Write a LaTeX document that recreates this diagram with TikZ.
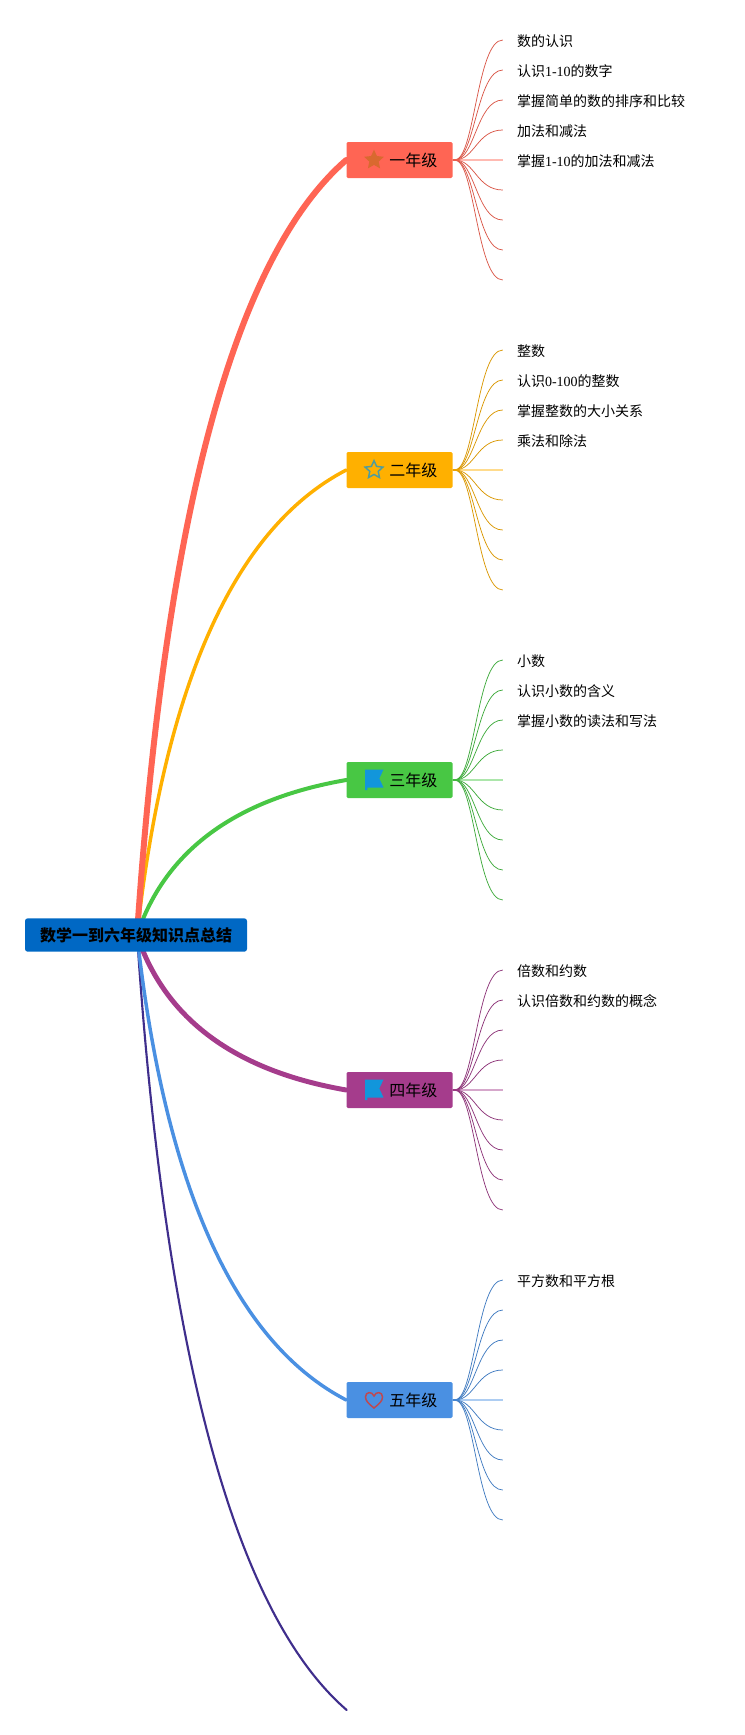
\documentclass[tikz,border=0pt]{standalone}
\usepackage{fontspec}
\usepackage{xcolor}
\usepackage{tikz}
\usetikzlibrary{calc,shapes.geometric}
\setmainfont{Liberation Serif}
\newfontfamily\cjk{Noto Sans CJK SC}
\definecolor{rootblue}{HTML}{0068C4}
\definecolor{gradeone}{HTML}{FF6554}
\definecolor{gradetwo}{HTML}{FFB000}
\definecolor{gradethree}{HTML}{48C744}
\definecolor{gradefour}{HTML}{A53C8C}
\definecolor{gradefive}{HTML}{4A90E2}
\definecolor{gradesix}{HTML}{3F2E8C}
\definecolor{staricon}{HTML}{D9692F}
\definecolor{tealicon}{HTML}{4E9C9F}
\definecolor{flagicon}{HTML}{1296DB}
\definecolor{hearticon}{HTML}{C0484F}
\newcommand{\tx}[1]{{\rmfamily #1}}
\newcommand{\branchto}[3]{%
  \coordinate (ctl) at ($(orig)!0.813!(orig|-#3)+(42,0)$);
  \draw[branch,#1,line width=#2] (orig) .. controls ($(orig)!2/3!(ctl)$) and ($(#3)!2/3!(ctl)$) .. (#3);}
\tikzset{
  rootbox/.style={fill=rootblue, rounded corners=2pt, minimum width=166.5pt, minimum height=25pt, inner sep=0pt, font=\cjk\bfseries\fontsize{12pt}{14pt}\selectfont},
  gradebox/.style={rounded corners=1pt, minimum width=79.5pt, minimum height=27pt, inner sep=0pt},
  gradelab/.style={anchor=west, inner sep=0pt, yshift=-0.5pt, font=\cjk\fontsize{12pt}{14pt}\selectfont},
  branch/.style={line cap=round},
  leaf/.style={line width=0.55pt},
  midleaf/.style={line width=1.5pt, opacity=0.45},
  lab/.style={anchor=west, inner sep=0pt, xshift=10.5pt, yshift=-0.75pt, font=\cjk\fontsize{10.5pt}{12pt}\selectfont},
  icon/.style={star, star points=5, star point ratio=2.1, minimum size=15.5pt, inner sep=0pt},
  flag/.style={fill=flagicon},
}
\begin{document}
\begin{tikzpicture}[x=0.75pt,y=-0.75pt]
  \useasboundingbox (0,0) rectangle (745,1735);

  \coordinate (orig) at (137,935);
  \node[gradebox,fill=gradeone] (one) at (399.5,160) {};
  \node[gradebox,fill=gradetwo] (two) at (399.5,470) {};
  \node[gradebox,fill=gradethree] (three) at (399.5,780) {};
  \node[gradebox,fill=gradefour] (four) at (399.5,1090) {};
  \node[gradebox,fill=gradefive] (five) at (399.5,1400) {};
  \coordinate (six) at (346.7,1710);

  % branches, thickest to the first grade
  \branchto{gradesix}{1.6pt}{six}
  \branchto{gradefive}{2.6pt}{five.west}
  \branchto{gradefour}{3.7pt}{four.west}
  \branchto{gradethree}{3pt}{three.west}
  \branchto{gradetwo}{2.6pt}{two.west}
  \branchto{gradeone}{4.5pt}{one.west}

  \node[rootbox] (root) at (136,935) {数学一到六年级知识点总结};

  % the fan on the right of each box
  \foreach \b/\c in {one/gradeone,two/gradetwo,three/gradethree,four/gradefour,five/gradefive} {
    \foreach \i in {-4,-3,-2,-1,1,2,3,4} {
      \coordinate (\b\i) at ($(\b.east)+(50,\i*30)$);
      \draw[leaf,\c!85!black] (\b.east) -- ++(2,0) .. controls +(20,0) and ($(\b\i)+(-26,0)$) .. (\b\i);
    }
    \coordinate (\b0) at ($(\b.east)+(50,0)$);
    \draw[midleaf,\c] (\b.east) -- (\b0);
  }

  \node[gradelab] at (389,160) {一年级};
  \node[gradelab] at (389,470) {二年级};
  \node[gradelab] at (389,780) {三年级};
  \node[gradelab] at (389,1090) {四年级};
  \node[gradelab] at (389,1400) {五年级};

  % icons
  \node[icon,fill=staricon] (staricn) at (374,160) {};
  \node[icon,draw=tealicon,line width=1.1pt,minimum size=14pt] (hollow) at (374,470) {};
  \fill[flag] (365,769.5) -- (383.5,769.5) -- (379.3,778.5) -- (383.5,787.5) -- (367.3,787.5) -- (367.3,790) -- (365,790) -- cycle;
  \fill[flag] (365,1079.5) -- (383.5,1079.5) -- (379.3,1088.5) -- (383.5,1097.5) -- (367.3,1097.5) -- (367.3,1100) -- (365,1100) -- cycle;
  \draw[hearticon,line width=1.1pt] (374,1408) .. controls (369,1404) and (365.5,1401) .. (365.5,1397) .. controls (365.5,1391.5) and (372,1391) .. (374,1396) .. controls (376,1391) and (382.5,1391.5) .. (382.5,1397) .. controls (382.5,1401) and (379,1404) .. (374,1408) -- cycle;

  \node[lab] at (one-4) {数的认识};
  \node[lab] at (one-3) {认识\tx{1-10}的数字};
  \node[lab] at (one-2) {掌握简单的数的排序和比较};
  \node[lab] at (one-1) {加法和减法};
  \node[lab] at (one0) {掌握\tx{1-10}的加法和减法};
  \node[lab] at (two-4) {整数};
  \node[lab] at (two-3) {认识\tx{0-100}的整数};
  \node[lab] at (two-2) {掌握整数的大小关系};
  \node[lab] at (two-1) {乘法和除法};
  \node[lab] at (three-4) {小数};
  \node[lab] at (three-3) {认识小数的含义};
  \node[lab] at (three-2) {掌握小数的读法和写法};
  \node[lab] at (four-4) {倍数和约数};
  \node[lab] at (four-3) {认识倍数和约数的概念};
  \node[lab] at (five-4) {平方数和平方根};
\end{tikzpicture}
\end{document}
